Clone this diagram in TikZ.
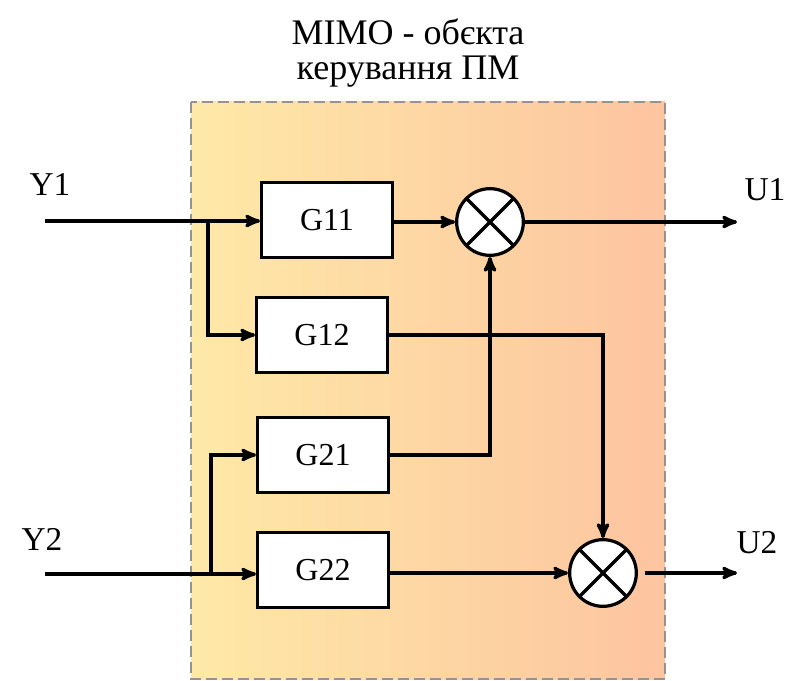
\documentclass[tikz,border=0pt]{standalone}
\usepackage{fontspec}
\setmainfont{Liberation Serif}
\usepackage{tikz}
\usetikzlibrary{arrows}
\usetikzlibrary{calc}
\usetikzlibrary{positioning}
\usetikzlibrary{shapes}
\definecolor{fillL}{HTML}{FEE9A7}
\definecolor{fillR}{HTML}{FDC4A0}
\tikzset{>=stealth'}
\tikzset{
  mimo_box/.style = {draw=gray!85, line width=2.2pt, dash pattern=on 8pt off 4pt,
    left color=fillL, right color=fillR},
  blk_g/.style = {rectangle, draw=black, fill=white, line width=2.4pt,
    minimum width=98pt, minimum height=56pt, font=\fontsize{24}{28}\selectfont},
  sum_x/.style = {circle, draw=black, fill=white, line width=2.4pt, minimum size=50pt,
    path picture={\draw[line width=2.4pt] (path picture bounding box.south west) -- (path picture bounding box.north east)
      (path picture bounding box.north west) -- (path picture bounding box.south east);}},
  sig/.style = {font=\fontsize{25}{30}\selectfont},
  wire/.style = {->, line width=2.6pt}
}
\begin{document}
\begin{tikzpicture}[x=0.75pt,y=-0.75pt]
  \useasboundingbox (0,0) rectangle (786,681);

  % frame of the object
  \draw [mimo_box] (191,102) rectangle (665,679);
  \node [align=center, font=\fontsize{27}{26}\selectfont] (title) at (408,53) {MIMO - обєкта\\керування ПМ};

  % blocks
  \node [blk_g] (g11) at (327,220) {G11};
  \node [blk_g] (g12) at (322,335) {G12};
  \node [blk_g] (g21) at (323,455) {G21};
  \node [blk_g] (g22) at (323,570) {G22};
  \node [sum_x] (s1) at (490,222) {};
  \node [sum_x] (s2) at (603,573) {};

  % inputs and outputs
  \coordinate (y1) at (45,221);
  \coordinate (y2) at (45,574);
  \coordinate (b1) at (208,221);
  \coordinate (b2) at (211,574);
  \coordinate (u1) at (737,222);
  \coordinate (u2) at (737,573);
  \node [sig] (ly1) at (50,184) {Y1};
  \node [sig] (ly2) at (42,539) {Y2};
  \node [sig] (lu1) at (765,190) {U1};
  \node [sig] (lu2) at (757,543) {U2};

  \draw [wire] (y1) -- (g11.west |- y1);
  \draw [wire] (b1) |- (g12.west);
  \draw [wire] (y2) -- (g22.west |- y2);
  \draw [wire] (b2) |- (g21.west);

  \draw [wire] (g11.east |- s1) -- (s1.west);
  \draw [wire] (g21.east) -| (s1.south);
  \draw [wire] (g12.east) -| (s2.north);
  \draw [wire] (g22.east |- s2) -- (s2.west);

  \draw [wire] (s1.east) -- (u1);
  \draw [wire, shorten <=5pt] (s2.east) -- (u2);
\end{tikzpicture}
\end{document}
